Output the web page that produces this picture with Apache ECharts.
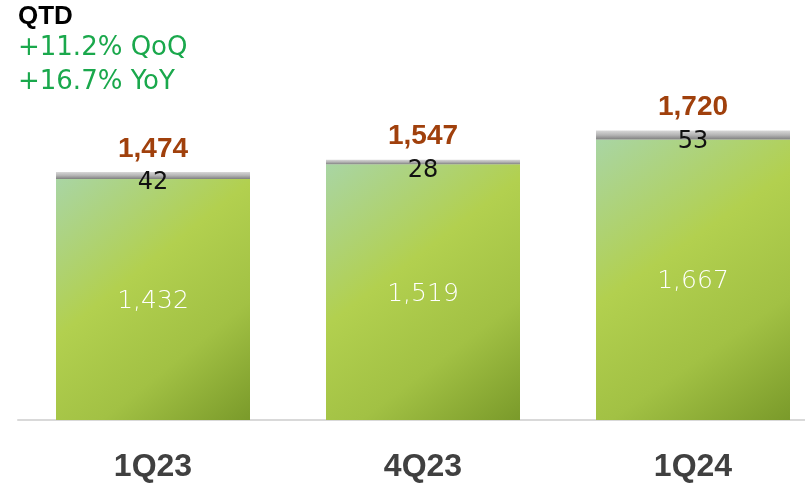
<!DOCTYPE html>
<html>
<head>
<meta charset="utf-8">
<script src="https://cdn.jsdelivr.net/npm/echarts@6/dist/echarts.min.js"></script>
<style>
html,body{margin:0;padding:0;background:#fff;overflow:hidden;}
#c{width:828px;height:485px;}
</style>
</head>
<body>
<div id="c"></div>
<script>
var categories = ['1Q23', '4Q23', '1Q24'];
var baseValues = [1432, 1519, 1667];
var topValues = [42, 28, 53];
var totals = [1474, 1547, 1720];
var titleLines = ['QTD', '+11.2% QoQ', '+16.7% YoY'];

function fmt(n) { return n.toLocaleString('en-US'); }

var chart = echarts.init(document.getElementById('c'), null, {renderer: 'canvas'});
chart.setOption({
  animation: false,
  backgroundColor: '#ffffff',
  graphic: [
    {type: 'text', left: 18, top: 4, style: {text: titleLines[0], font: 'bold 26px "Liberation Sans", Arial, sans-serif', fill: '#000'}},
    {type: 'text', left: 18, top: 35, style: {text: titleLines[1], font: '26px "DejaVu Sans", sans-serif', fill: '#1aa84c'}},
    {type: 'text', left: 18, top: 69, style: {text: titleLines[2], font: '26px "DejaVu Sans", sans-serif', fill: '#1aa84c'}}
  ],
  grid: {left: 18, right: 0, top: 83.4, bottom: 65, containLabel: false},
  xAxis: {
    type: 'category',
    data: categories,
    axisLine: {show: true, lineStyle: {color: '#d9d9d9', width: 2}},
    axisTick: {show: false},
    axisLabel: {margin: 31, color: '#404040', fontSize: 32, fontWeight: 'bold', fontFamily: '"Liberation Sans", Arial, sans-serif'}
  },
  yAxis: {type: 'value', min: 0, max: 2000, show: false, splitLine: {show: false}},
  series: [
    {
      type: 'bar', stack: 's', barWidth: 194,
      data: baseValues,
      itemStyle: {color: new echarts.graphic.LinearGradient(0, 0, 1, 1, [
        {offset: 0, color: '#a9d5a4'},
        {offset: 0.4, color: '#b2d04f'},
        {offset: 0.7, color: '#a2c144'},
        {offset: 1, color: '#7a9a2a'}
      ])},
      label: {show: true, position: 'inside', offset: [0, 2], color: '#ffffff', fontSize: 25, fontFamily: '"DejaVu Sans", sans-serif', fontWeight: 200,
        formatter: function (p) { return fmt(p.value); }}
    },
    {
      type: 'bar', stack: 's', barWidth: 194,
      data: topValues,
      itemStyle: {color: new echarts.graphic.LinearGradient(0, 0, 0, 1, [
        {offset: 0, color: '#d8d8d8'},
        {offset: 0.5, color: '#b5b5b5'},
        {offset: 1, color: '#7f7f7f'}
      ])},
      label: {
        show: true, position: 'top', offset: [0, 29],
        formatter: function (p) { return '{t|' + fmt(totals[p.dataIndex]) + '}\n{v|' + p.value + '}'; },
        rich: {
          t: {color: '#a0400c', fontSize: 28, fontWeight: 'bold', fontFamily: '"Liberation Sans", Arial, sans-serif', lineHeight: 42, align: 'center'},
          v: {color: '#111', fontSize: 24, fontFamily: '"DejaVu Sans", sans-serif', lineHeight: 26, align: 'center'}
        }
      }
    }
  ]
});
</script>
</body>
</html>
